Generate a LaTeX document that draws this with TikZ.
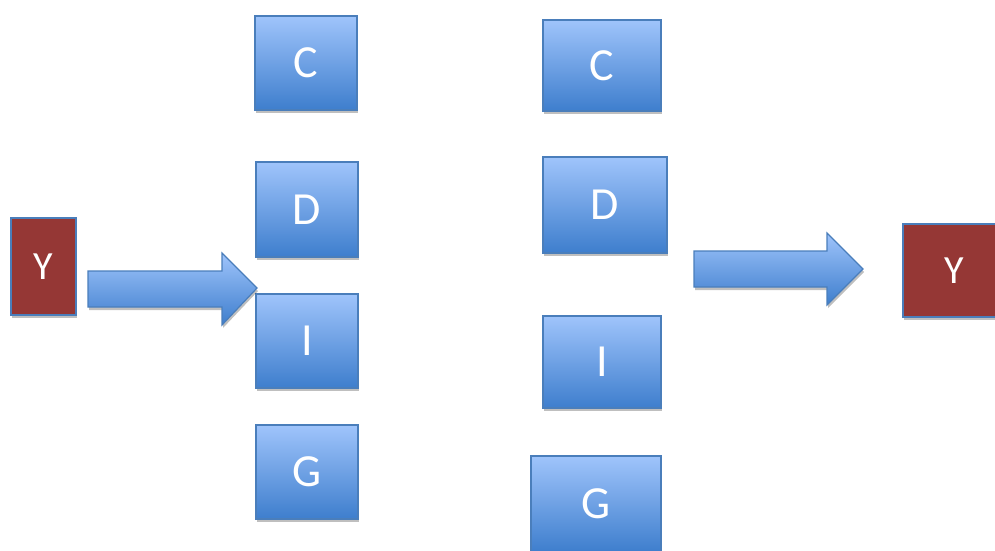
\documentclass[tikz,border=0pt]{standalone}
\usepackage{fontspec}
\setmainfont{Carlito}
\usetikzlibrary{shadows}
\definecolor{btop}{HTML}{9FC4FB}
\definecolor{bbot}{HTML}{3E7ECD}
\definecolor{bline}{HTML}{4A7EBB}
\definecolor{yred}{HTML}{953735}
\tikzset{
  shad/.style={drop shadow={shadow xshift=1pt,shadow yshift=-3pt,opacity=0.25,fill=black}},
  bluebox/.style={draw=bline,line width=1.2pt,shading=axis,top color=btop,bottom color=bbot,
    text=white,font=\fontsize{46}{50}\selectfont,inner sep=0pt,shad},
  redbox/.style={draw=bline,line width=1.2pt,fill=yred,text=white,
    font=\fontsize{40}{44}\selectfont,inner sep=0pt,shad},
  blockarrow/.style={draw=bline,line width=1.2pt,shading=axis,top color=btop,bottom color=bbot,
    line join=miter,shad},
}
\begin{document}
\begin{tikzpicture}[x=1pt,y=-1pt]
\useasboundingbox (0,0) rectangle (995,550);
% left column
\node[bluebox,minimum width=102pt,minimum height=94pt] (lc) at (306,63) {C};
\node[bluebox,minimum width=102pt,minimum height=95pt] (ld) at (307,209.5) {D};
\node[bluebox,minimum width=102pt,minimum height=94pt] (li) at (307,341) {I};
\node[bluebox,minimum width=102pt,minimum height=94pt] (lg) at (307,472) {G};
% right column
\node[bluebox,minimum width=118pt,minimum height=91pt] (rc) at (602,65.5) {C};
\node[bluebox,minimum width=124pt,minimum height=96pt] (rd) at (605,205) {D};
\node[bluebox,minimum width=118pt,minimum height=92pt] (ri) at (602,362) {I};
\node[bluebox,minimum width=130pt,minimum height=96pt] (rg) at (596,504) {G};
% Y boxes
\node[redbox,minimum width=65pt,minimum height=97pt] (y1) at (43.5,266.5) {Y};
\node[redbox,minimum width=102pt,minimum height=93pt] (y2) at (954,270.5) {Y};
% block arrows
\path[blockarrow] (88,271) -- (222,271) -- (222,253) -- (257,288) -- (222,325) -- (222,307) -- (88,307) -- cycle;
\path[blockarrow] (694,251) -- (827,251) -- (827,233) -- (863,269) -- (827,305) -- (827,287) -- (694,287) -- cycle;
\end{tikzpicture}
\end{document}
